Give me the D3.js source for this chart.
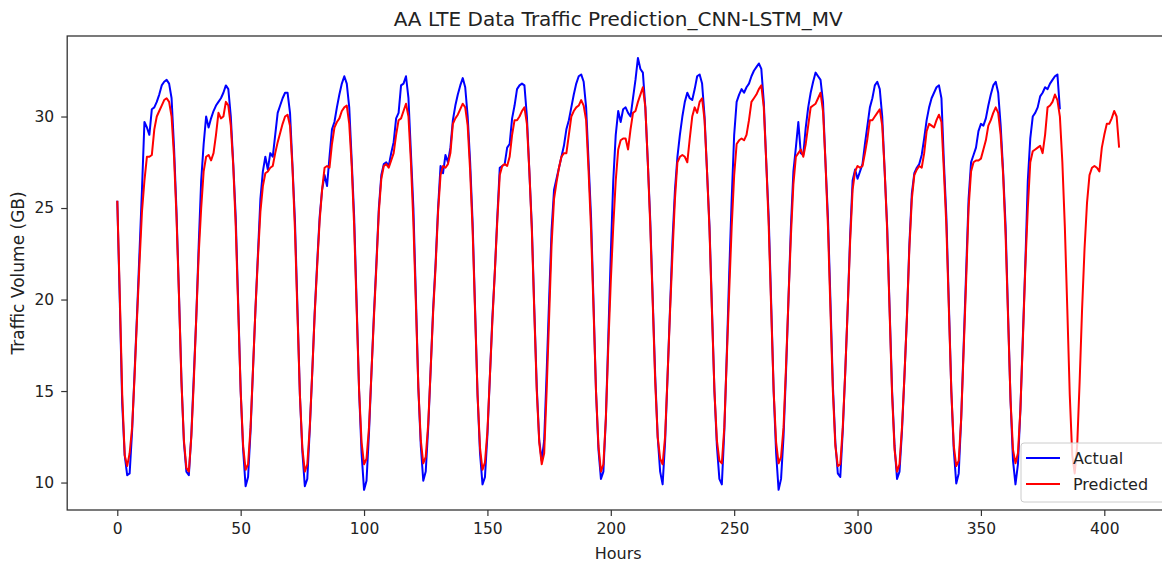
<!DOCTYPE html>
<html lang="en">

<head>
    <meta charset="UTF-8">
    <title>AA LTE Data Traffic Prediction_CNN-LSTM_MV</title>
    <script src="https://d3js.org/d3.v7.min.js"></script>
    <style>
        body {
            margin: 0;
            background: #fff;
        }

        svg text {
            font-family: "DejaVu Sans", sans-serif;
            fill: #222;
        }

        .series {
            fill: none;
            stroke-width: 2px;
            stroke-linejoin: round;
        }
    </style>
</head>

<body>
    <svg width="1162" height="562"></svg>

    <script>
        // hourly traffic volume (GB), one row per day of 24 hours
        const actual = [
            25.4, 20.0, 14.3, 11.5, 10.4, 10.5, 12.8, 16.0, 19.2, 22.6, 26.0, 29.7, 29.4, 29.0, 30.4, 30.5, 30.8, 31.2, 31.7, 31.9, 32.0, 31.8, 31.0, 28.3,
            24.8, 20.3, 15.6, 12.2, 10.6, 10.4, 12.6, 15.8, 19.0, 23.0, 26.5, 28.5, 30.0, 29.4, 29.9, 30.3, 30.6, 30.8, 31.0, 31.3, 31.7, 31.5, 30.0, 27.4,
            24.5, 19.8, 15.0, 11.8, 9.8, 10.3, 12.8, 16.2, 19.5, 22.5, 25.5, 27.0, 27.8, 27.1, 28.0, 27.8, 29.0, 30.2, 30.6, 31.0, 31.3, 31.3, 30.2, 27.3,
            24.3, 19.6, 14.8, 11.7, 9.8, 10.2, 12.9, 16.0, 19.3, 22.0, 24.5, 26.0, 26.8, 26.2, 27.8, 29.3, 29.7, 30.5, 31.2, 31.8, 32.2, 31.8, 30.5, 27.6,
            24.5, 19.8, 15.0, 11.6, 9.6, 10.1, 12.7, 16.0, 19.2, 22.0, 25.0, 26.8, 27.4, 27.5, 27.3, 28.0, 28.6, 29.9, 30.2, 31.7, 31.8, 32.2, 31.0, 28.0,
            25.0, 20.2, 15.2, 12.0, 10.1, 10.6, 13.0, 16.2, 19.5, 22.0, 25.0, 27.3, 26.9, 27.9, 27.5, 28.3, 29.8, 30.6, 31.2, 31.7, 32.1, 31.6, 30.0, 27.5,
            24.2, 19.5, 14.8, 11.6, 9.9, 10.3, 12.6, 15.8, 19.0, 21.5, 24.5, 27.2, 27.3, 27.4, 28.3, 28.5, 29.9, 30.6, 31.5, 31.7, 31.8, 31.7, 30.0, 27.0,
            24.0, 19.5, 15.2, 12.3, 11.2, 12.3, 16.0, 20.0, 23.8, 26.0, 26.6, 27.2, 27.8, 28.4, 29.3, 29.8, 30.5, 31.2, 31.8, 32.2, 32.3, 31.9, 30.5, 27.5,
            24.5, 19.8, 15.0, 11.8, 10.2, 10.6, 13.5, 18.0, 22.5, 26.5, 29.0, 30.3, 29.7, 30.4, 30.5, 30.2, 30.0, 31.0, 32.0, 33.2, 32.6, 32.4, 30.5, 27.5,
            24.3, 20.0, 15.8, 12.5, 10.6, 9.9, 12.2, 15.8, 19.5, 23.2, 26.0, 27.8, 29.0, 30.0, 30.8, 31.3, 31.0, 30.9, 31.5, 32.2, 32.3, 31.8, 30.0, 27.0,
            24.0, 19.5, 15.0, 12.0, 10.2, 9.9, 12.8, 17.0, 21.5, 25.5, 29.0, 30.8, 31.2, 31.5, 31.3, 31.6, 31.8, 32.2, 32.5, 32.7, 32.9, 32.6, 30.8, 27.5,
            24.5, 19.8, 15.0, 11.6, 9.6, 10.2, 12.5, 16.0, 20.0, 24.0, 27.0, 28.3, 29.7, 28.0, 27.9, 29.4, 30.5, 31.3, 31.9, 32.4, 32.2, 32.0, 30.8, 27.5,
            24.5, 20.0, 15.3, 12.2, 10.5, 10.3, 12.8, 16.0, 19.5, 23.5, 26.5, 27.1, 26.6, 27.0, 27.4, 28.5, 29.5, 30.5, 31.0, 31.7, 31.9, 31.5, 30.0, 27.0,
            24.0, 19.5, 15.0, 12.0, 10.2, 10.6, 12.8, 15.8, 19.0, 23.0, 25.8, 26.9, 27.2, 27.4, 27.9, 28.8, 29.8, 30.5, 31.0, 31.3, 31.6, 31.7, 31.0, 27.5,
            24.5, 19.8, 15.0, 11.8, 9.95, 10.5, 13.5, 17.5, 21.5, 25.5, 27.5, 27.9, 28.3, 29.2, 29.6, 29.5, 29.9, 30.6, 31.2, 31.7, 31.9, 31.3, 29.5, 27.0,
            24.0, 19.2, 14.5, 11.2, 9.9, 11.0, 14.0, 18.0, 22.0, 26.5, 28.8, 30.0, 30.2, 30.5, 31.1, 31.3, 31.6, 31.5, 31.8, 32.0, 32.2, 32.3, 30.4
        ];

        const predicted = [
            25.4, 20.3, 14.8, 11.5, 10.9, 11.6, 13.0, 15.8, 19.0, 22.0, 24.8, 26.5, 27.8, 27.8, 27.9, 29.3, 30.0, 30.3, 30.6, 30.9, 31.0, 30.8, 30.0, 27.8,
            24.5, 20.2, 15.5, 12.3, 10.8, 10.6, 12.5, 15.5, 19.0, 22.5, 25.0, 27.0, 27.8, 27.9, 27.6, 28.0, 29.0, 30.2, 29.9, 30.0, 30.8, 30.6, 29.5, 27.3,
            24.0, 19.5, 15.0, 12.0, 10.7, 11.0, 13.0, 16.2, 19.5, 22.3, 24.8, 26.2, 26.9, 27.0, 27.2, 27.3, 28.0, 28.6, 29.1, 29.6, 30.0, 30.1, 29.5, 27.2,
            23.8, 19.3, 14.8, 11.9, 10.6, 11.0, 13.0, 16.0, 19.2, 21.8, 24.3, 26.0, 27.2, 27.3, 27.2, 28.5, 29.4, 29.7, 29.9, 30.3, 30.5, 30.6, 29.6, 27.3,
            24.0, 19.5, 15.0, 12.2, 11.0, 11.3, 13.0, 16.0, 19.0, 21.8, 24.8, 26.6, 27.3, 27.4, 27.2, 27.6, 28.0, 29.0, 29.8, 29.9, 30.3, 30.7, 30.0, 27.5,
            24.2, 19.8, 15.2, 12.3, 11.05, 11.4, 13.2, 16.2, 19.3, 21.8, 24.8, 26.8, 27.3, 27.2, 27.4, 28.0, 29.6, 29.9, 30.1, 30.4, 30.7, 30.5, 29.5, 27.0,
            23.8, 19.3, 14.8, 11.9, 10.7, 11.1, 12.8, 15.8, 18.8, 21.5, 24.3, 26.8, 27.3, 27.4, 27.3, 27.8, 29.0, 29.8, 29.8, 30.0, 30.3, 30.5, 29.6, 27.0,
            23.8, 19.3, 15.0, 12.2, 11.0, 11.6, 15.0, 19.0, 23.0, 25.5, 26.4, 27.2, 27.8, 28.0, 28.0, 29.0, 30.0, 30.3, 30.5, 30.6, 30.9, 30.6, 29.8, 27.0,
            23.8, 19.5, 15.0, 12.0, 10.6, 11.0, 13.5, 17.5, 21.0, 24.0, 26.5, 28.2, 28.7, 28.8, 28.8, 28.2, 29.3, 30.2, 30.3, 30.8, 31.2, 31.6, 30.5, 27.5,
            24.0, 19.8, 15.5, 12.5, 11.3, 11.0, 12.5, 15.8, 19.3, 22.5, 25.5, 27.5, 27.8, 27.9, 27.8, 27.5, 28.8, 30.0, 30.5, 30.2, 30.8, 31.0, 29.8, 27.0,
            23.8, 19.3, 15.0, 12.3, 11.2, 11.05, 13.0, 16.8, 20.5, 24.0, 26.8, 28.5, 28.7, 28.8, 28.7, 29.0, 29.8, 30.8, 31.0, 31.2, 31.5, 31.7, 30.5, 27.5,
            24.0, 19.5, 15.0, 12.2, 11.05, 11.4, 13.0, 16.3, 20.0, 23.5, 26.3, 27.8, 28.0, 28.2, 27.8, 28.5, 29.5, 30.5, 30.6, 30.7, 31.0, 31.3, 30.3, 27.5,
            24.0, 19.5, 15.0, 12.0, 10.9, 11.0, 13.0, 16.0, 19.5, 23.2, 26.0, 27.0, 27.3, 27.2, 27.3, 28.0, 28.8, 29.8, 29.8, 30.0, 30.2, 30.4, 29.5, 27.0,
            23.8, 19.3, 14.8, 11.8, 10.6, 11.0, 13.0, 15.8, 19.0, 22.8, 25.5, 26.8, 27.1, 27.3, 27.2, 28.0, 29.2, 29.6, 29.5, 29.4, 29.8, 30.1, 29.7, 27.0,
            24.0, 19.5, 15.0, 12.0, 10.9, 11.2, 13.5, 17.2, 21.0, 25.0, 27.0, 27.5, 27.6, 27.6, 27.7, 28.2, 28.7, 29.5, 29.8, 30.2, 30.5, 30.2, 29.0, 26.8,
            23.5, 19.0, 14.5, 11.8, 11.05, 11.6, 14.0, 17.8, 21.8, 25.0, 27.5, 28.1, 28.2, 28.3, 28.4, 28.0, 29.0, 30.5, 30.6, 30.8, 31.2, 30.9, 30.0, 27.5,
            24.0, 19.5, 14.8, 11.5, 10.5, 12.0, 15.5, 19.5, 22.8, 25.3, 26.8, 27.2, 27.3, 27.2, 27.0, 28.3, 29.0, 29.6, 29.6, 29.9, 30.3, 30.0, 28.3
        ];

        const seriesNames = ["Actual", "Predicted"];
        const xTicks = [0, 50, 100, 150, 200, 250, 300, 350, 400];
        const yTicks = [10, 15, 20, 25, 30];

        const svg = d3.select("svg");

        // plot area (right edge runs past the window like in the picture)
        const plotLeft = 67.2, plotRight = 1169.2, plotTop = 36, plotBottom = 510;

        const x = d3.scaleLinear().domain([-20.3, 426.3]).range([plotLeft, plotRight]);
        const y = d3.scaleLinear().domain([8.5, 34.4]).range([plotBottom, plotTop]);

        const line = d3.line()
            .x((d, i) => x(i))
            .y(d => y(d));

        svg.append("path")
            .datum(actual)
            .attr("class", "series")
            .attr("stroke", "#0000ff")
            .attr("d", line);

        svg.append("path")
            .datum(predicted)
            .attr("class", "series")
            .attr("stroke", "#ff0000")
            .attr("d", line);

        // frame
        svg.append("rect")
            .attr("x", plotLeft)
            .attr("y", plotTop)
            .attr("width", plotRight - plotLeft)
            .attr("height", plotBottom - plotTop)
            .attr("fill", "none")
            .attr("stroke", "#333")
            .attr("stroke-width", 1.3);

        // axes
        const xAxis = svg.append("g")
            .attr("transform", `translate(0,${plotBottom})`)
            .call(d3.axisBottom(x).tickValues(xTicks).tickSize(6).tickPadding(7).tickFormat(d3.format("d")));

        const yAxis = svg.append("g")
            .attr("transform", `translate(${plotLeft},0)`)
            .call(d3.axisLeft(y).tickValues(yTicks).tickSize(6).tickPadding(7).tickFormat(d3.format("d")));

        [xAxis, yAxis].forEach(g => {
            g.select(".domain").remove();
            g.selectAll(".tick line").attr("stroke", "#333").attr("stroke-width", 1.2);
            g.selectAll(".tick text")
                .attr("fill", "#222")
                .style("font-size", "15.5px")
                .style("font-family", "'DejaVu Sans', sans-serif");
        });

        // title and axis labels
        svg.append("text")
            .attr("x", (plotLeft + plotRight) / 2)
            .attr("y", 26)
            .attr("text-anchor", "middle")
            .style("font-size", "20px")
            .text("AA LTE Data Traffic Prediction_CNN-LSTM_MV");

        svg.append("text")
            .attr("x", (plotLeft + plotRight) / 2)
            .attr("y", 559)
            .attr("text-anchor", "middle")
            .style("font-size", "16px")
            .text("Hours");

        svg.append("text")
            .attr("transform", `translate(24,${(plotTop + plotBottom) / 2}) rotate(-90)`)
            .attr("text-anchor", "middle")
            .style("font-size", "17px")
            .text("Traffic Volume (GB)");

        // legend, lower right
        const legend = svg.append("g").attr("transform", "translate(1021,443)");

        legend.append("rect")
            .attr("width", 160)
            .attr("height", 59)
            .attr("rx", 3)
            .attr("fill", "#fff")
            .attr("fill-opacity", 0.8)
            .attr("stroke", "#ccc");

        const colors = ["#0000ff", "#ff0000"];
        seriesNames.forEach((name, i) => {
            const row = legend.append("g").attr("transform", `translate(0,${15 + i * 26})`);
            row.append("line")
                .attr("x1", 5).attr("x2", 39)
                .attr("stroke", colors[i])
                .attr("stroke-width", 2);
            row.append("text")
                .attr("x", 52)
                .attr("y", 6)
                .style("font-size", "16px")
                .text(name);
        });
    </script>
</body>

</html>
